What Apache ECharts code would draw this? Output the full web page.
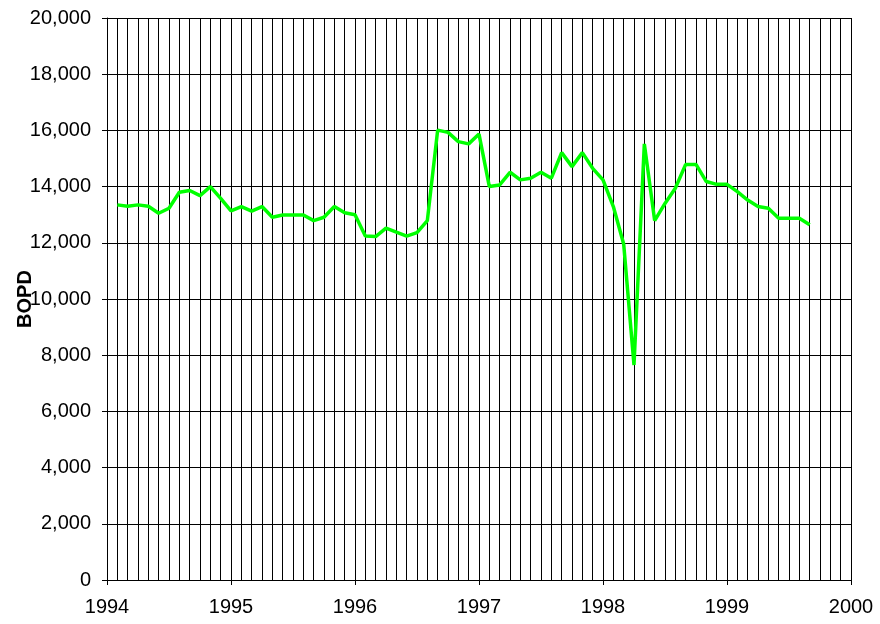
<!DOCTYPE html>
<html>
<head>
<meta charset="utf-8">
<script src="https://cdn.jsdelivr.net/npm/echarts@6/dist/echarts.min.js"></script>
<style>
  html, body { margin: 0; padding: 0; background: #fff; }
  #chart { width: 880px; height: 624px; }
</style>
</head>
<body>
<div id="chart"></div>
<script>
// monthly production, first point Feb 1994 (month 1 after Jan 1994)
var startYear = 1994;
var firstMonth = 1;
var bopd = [
  13350, 13300, 13350, 13300, 13050, 13230, 13800, 13860, 13680, 14000, 13580, 13140,
  13290, 13130, 13290, 12910, 12990, 12990, 12990, 12790, 12910, 13290, 13070, 13000,
  12240, 12220, 12520, 12380, 12240, 12360, 12790, 16010, 15930, 15600, 15520, 15870,
  14000, 14060, 14510, 14240, 14300, 14510, 14300, 15210, 14710, 15210, 14650, 14240,
  13290, 11960, 7650, 15520, 12790, 13400, 13940, 14790, 14790, 14180, 14080, 14080,
  13820, 13520, 13290, 13230, 12870, 12870, 12870, 12640
];
var yTicks = [0, 2000, 4000, 6000, 8000, 10000, 12000, 14000, 16000, 18000, 20000];

var points = bopd.map(function (v, i) {
  return [startYear + (firstMonth + i) / 12, v];
});

var myChart = echarts.init(document.getElementById('chart'));
var font = 'Liberation Sans, Arial, sans-serif';

myChart.setOption({
  animation: false,
  backgroundColor: '#fff',
  grid: { left: 107, right: 29, top: 18, bottom: 44, outerBoundsMode: 'none', containLabel: false },
  xAxis: {
    type: 'value',
    min: 1994,
    max: 2000,
    interval: 1,
    axisLine: { onZero: false, lineStyle: { color: '#000', width: 1 } },
    axisTick: { show: true, length: 5, lineStyle: { color: '#000' } },
    minorTick: { show: false, splitNumber: 12 },
    splitLine: { show: true, lineStyle: { color: '#000', width: 1 } },
    minorSplitLine: { show: true, lineStyle: { color: '#000', width: 1 } },
    axisLabel: {
      margin: 17,
      color: '#000',
      fontFamily: font,
      fontSize: 20,
      hideOverlap: false,
      formatter: function (v) { return String(v); }
    }
  },
  yAxis: {
    type: 'value',
    min: yTicks[0],
    max: yTicks[yTicks.length - 1],
    interval: 2000,
    name: 'BOPD',
    nameLocation: 'middle',
    nameRotate: 90,
    nameGap: 72,
    nameMoveOverlap: false,
    nameTextStyle: { color: '#000', fontFamily: font, fontSize: 20, fontWeight: 'bold' },
    axisLine: { show: true, lineStyle: { color: '#000', width: 1 } },
    axisTick: { show: true, length: 5, lineStyle: { color: '#000' } },
    splitLine: { show: true, lineStyle: { color: '#000', width: 1 } },
    axisLabel: {
      margin: 16,
      color: '#000',
      fontFamily: font,
      fontSize: 20,
      formatter: function (v) { return v.toLocaleString('en-US'); }
    }
  },
  series: [{
    type: 'line',
    data: points,
    showSymbol: false,
    symbol: 'none',
    lineStyle: { color: '#00ff00', width: 3.5 },
    itemStyle: { color: '#00ff00' }
  }]
});
</script>
</body>
</html>
